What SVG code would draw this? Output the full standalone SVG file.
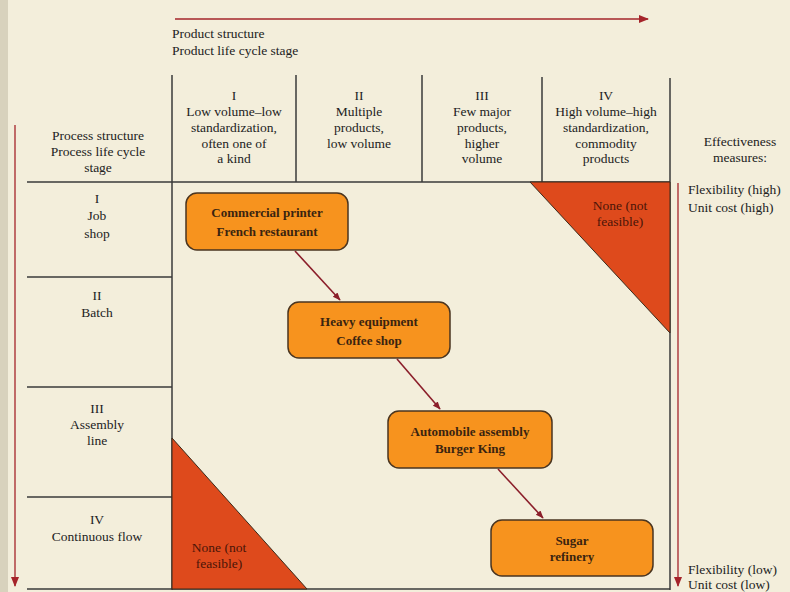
<svg xmlns="http://www.w3.org/2000/svg" width="790" height="592" viewBox="0 0 790 592">
<defs>
<marker id="ah" viewBox="0 0 10 10" refX="9" refY="5" markerWidth="8" markerHeight="8" markerUnits="userSpaceOnUse" orient="auto"><path d="M0,1 L10,5 L0,9 Z" fill="#8b1e2a"/></marker>
<marker id="ahb" viewBox="0 0 10 10" refX="9" refY="5" markerWidth="10" markerHeight="10" markerUnits="userSpaceOnUse" orient="auto"><path d="M0,1 L10,5 L0,9 Z" fill="#a5242a"/></marker>
</defs>
<style>
text{font-family:"Liberation Serif","Times New Roman",serif;font-size:13.5px;fill:#222;text-anchor:middle}
.b text{fill:#3a2410;font-weight:bold;font-size:13px}
.l{stroke:#3a3a3a;stroke-width:1.5;fill:none}
.node rect{fill:#f7931e;stroke:#4a3520;stroke-width:1.5}
.tri polygon{fill:#de4a1c;stroke:#3a2a1a;stroke-width:1}
.tri text{fill:#4a1508}
.axis{stroke:#a5242a;stroke-width:1.3;fill:none}
.con{stroke:#8b1e2a;stroke-width:1.6;fill:none}
.left{text-anchor:start}
</style>
<rect width="790" height="592" fill="#f3eedb"/>
<rect width="8" height="592" fill="#d8d2bd"/>

<g id="axes">
<line class="axis" x1="175" y1="19" x2="648" y2="19" marker-end="url(#ahb)"/>
<line class="axis" x1="15" y1="125" x2="15" y2="586" marker-end="url(#ahb)"/>
<line class="axis" x1="678" y1="183" x2="678" y2="586" marker-end="url(#ahb)"/>
</g>

<g id="grid">
<line class="l" x1="172" y1="75" x2="172" y2="590"/>
<line class="l" x1="296" y1="75" x2="296" y2="182"/>
<line class="l" x1="422" y1="75" x2="422" y2="182"/>
<line class="l" x1="542" y1="77" x2="542" y2="182"/>
<line class="l" x1="670" y1="78" x2="670" y2="590"/>
<line class="l" x1="27" y1="182" x2="670" y2="182"/>
<line class="l" x1="27" y1="277" x2="172" y2="277"/>
<line class="l" x1="27" y1="387" x2="172" y2="387"/>
<line class="l" x1="27" y1="497" x2="172" y2="497"/>
<line class="l" x1="27" y1="589" x2="670" y2="589"/>
</g>

<g id="headers">
<text class="left" x="172" y="38">Product structure</text>
<text class="left" x="172" y="55">Product life cycle stage</text>
<text x="234" y="100">I</text>
<text x="234" y="116">Low volume–low</text>
<text x="234" y="132">standardization,</text>
<text x="234" y="148">often one of</text>
<text x="234" y="163">a kind</text>
<text x="359" y="100">II</text>
<text x="359" y="116">Multiple</text>
<text x="359" y="132">products,</text>
<text x="359" y="148">low volume</text>
<text x="482" y="100">III</text>
<text x="482" y="116">Few major</text>
<text x="482" y="132">products,</text>
<text x="482" y="148">higher</text>
<text x="482" y="163">volume</text>
<text x="606" y="100">IV</text>
<text x="606" y="116">High volume–high</text>
<text x="606" y="132">standardization,</text>
<text x="606" y="148">commodity</text>
<text x="606" y="163">products</text>
<text x="98" y="140">Process structure</text>
<text x="98" y="156">Process life cycle</text>
<text x="98" y="172">stage</text>
<text x="740" y="146">Effectiveness</text>
<text x="740" y="162">measures:</text>
<text x="97" y="203">I</text>
<text x="97" y="220">Job</text>
<text x="97" y="238">shop</text>
<text x="97" y="300">II</text>
<text x="97" y="317">Batch</text>
<text x="97" y="413">III</text>
<text x="97" y="429">Assembly</text>
<text x="97" y="445">line</text>
<text x="97" y="524">IV</text>
<text x="97" y="541">Continuous flow</text>
<text class="left" x="688" y="194">Flexibility (high)</text>
<text class="left" x="688" y="212">Unit cost (high)</text>
<text class="left" x="688" y="574">Flexibility (low)</text>
<text class="left" x="688" y="589">Unit cost (low)</text>
</g>

<g id="infeasible-top" class="tri">
<polygon points="530,182 670,182 670,333"/>
<text x="620" y="210">None (not</text>
<text x="620" y="226">feasible)</text>
</g>
<g id="infeasible-bottom" class="tri">
<polygon points="172,438 172,589 307,589"/>
<text x="219" y="552">None (not</text>
<text x="219" y="568">feasible)</text>
</g>

<g id="connectors">
<line class="con" x1="295" y1="251" x2="340" y2="300" marker-end="url(#ah)"/>
<line class="con" x1="397" y1="359" x2="440" y2="409" marker-end="url(#ah)"/>
<line class="con" x1="498" y1="469" x2="543" y2="518" marker-end="url(#ah)"/>
</g>

<g id="n1" class="node b">
<rect x="186" y="193" width="162" height="57" rx="11"/>
<text x="267" y="217">Commercial printer</text>
<text x="267" y="236">French restaurant</text>
</g>
<g id="n2" class="node b">
<rect x="288" y="302" width="162" height="56" rx="11"/>
<text x="369" y="326">Heavy equipment</text>
<text x="369" y="345">Coffee shop</text>
</g>
<g id="n3" class="node b">
<rect x="388" y="411" width="164" height="57" rx="11"/>
<text x="470" y="436">Automobile assembly</text>
<text x="470" y="453">Burger King</text>
</g>
<g id="n4" class="node b">
<rect x="491" y="520" width="162" height="56" rx="11"/>
<text x="572" y="545">Sugar</text>
<text x="572" y="561">refinery</text>
</g>
</svg>
